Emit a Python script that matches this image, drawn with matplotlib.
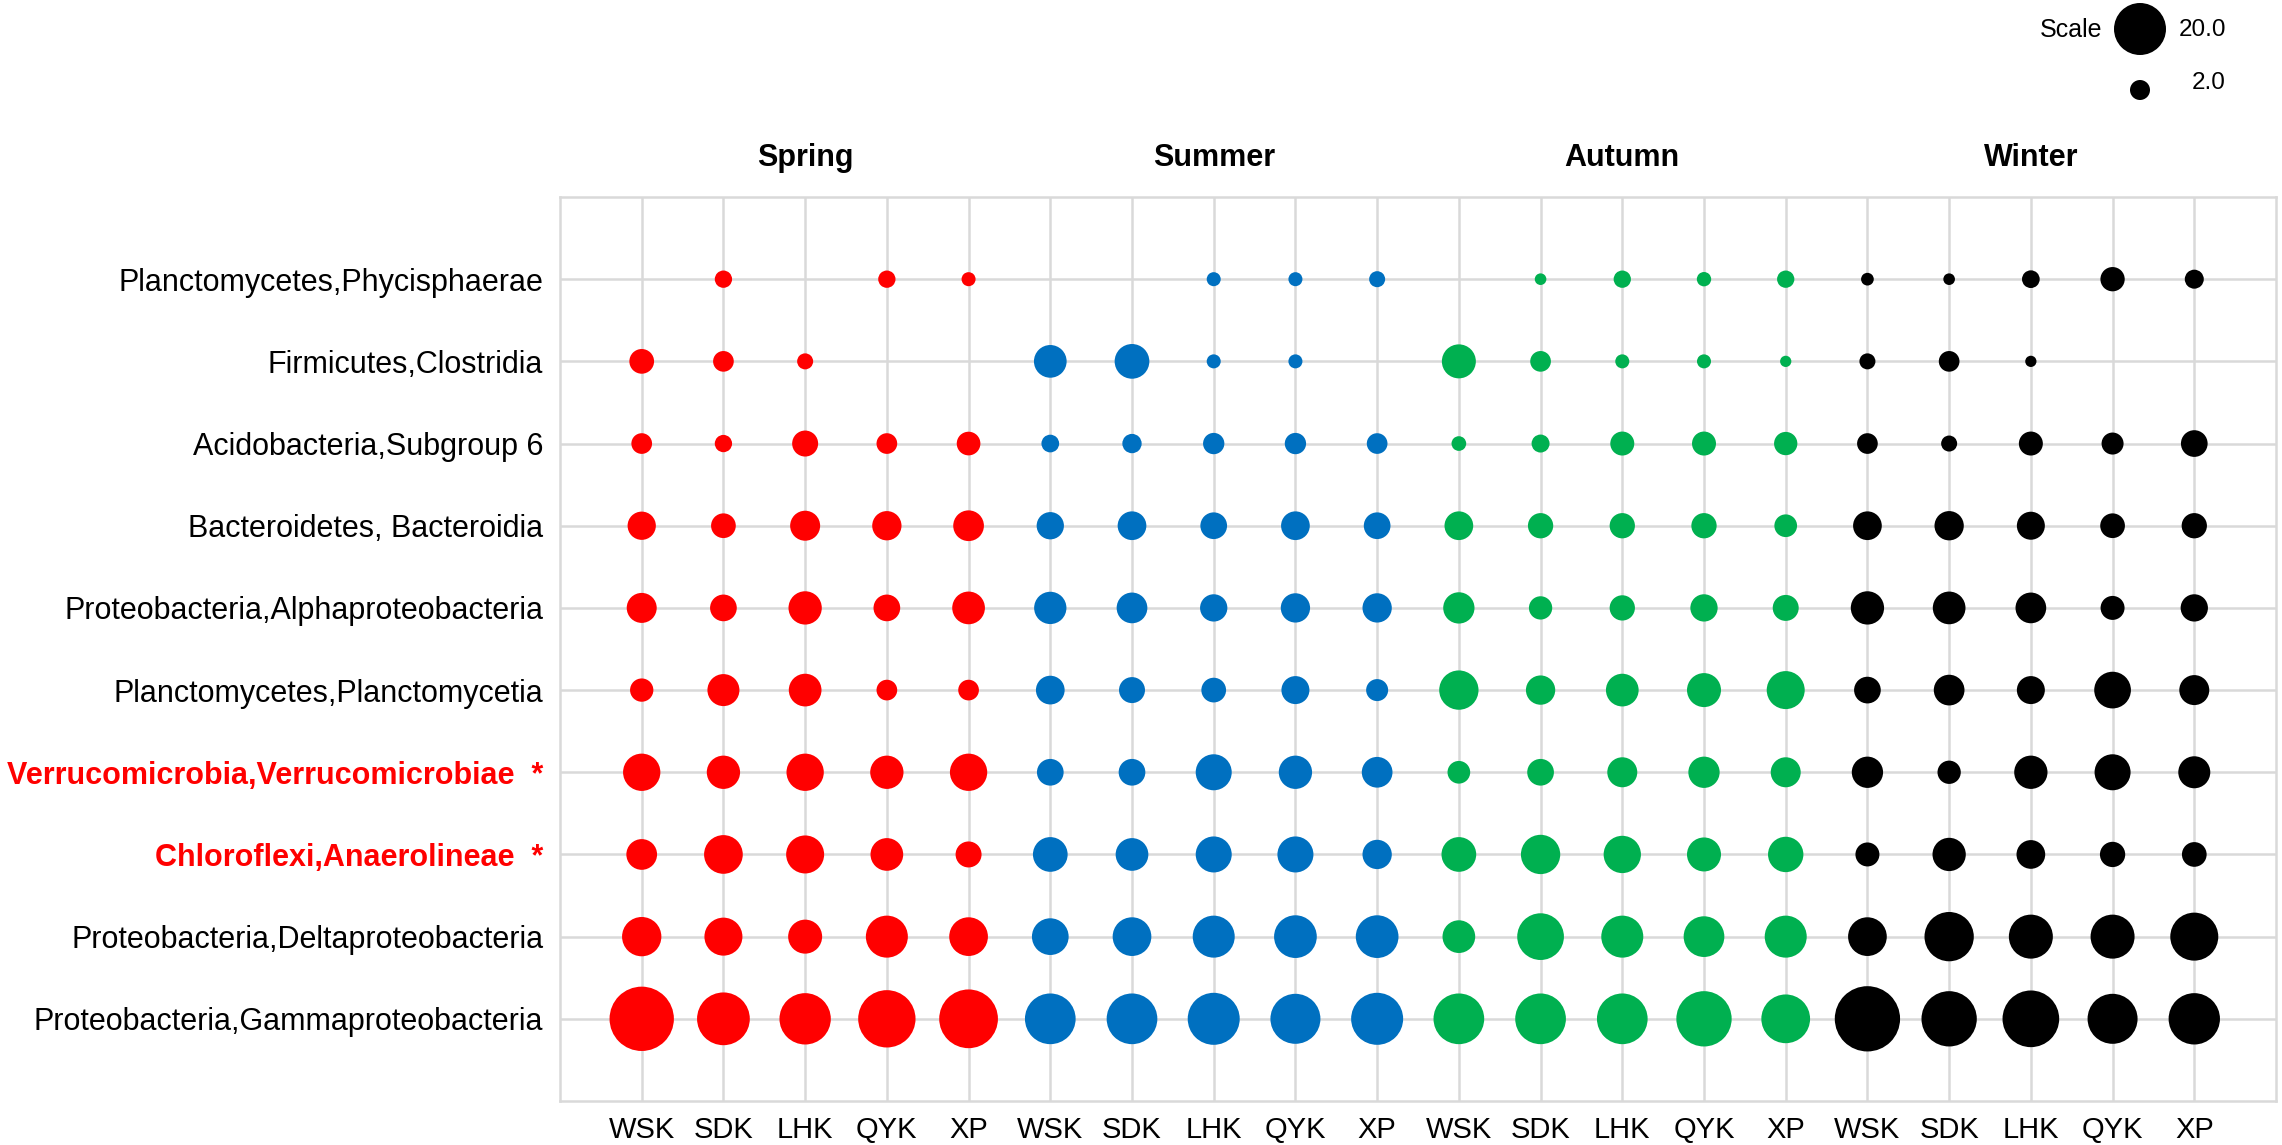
import numpy as np
import matplotlib
matplotlib.use('Agg')
import matplotlib.pyplot as plt

# --- Data ---
seasons = ["Spring", "Summer", "Autumn", "Winter"]
sites = ["WSK", "SDK", "LHK", "QYK", "XP"]
season_colors = ["#FF0000", "#0070C0", "#00B050", "#000000"]

taxa = [
    "Planctomycetes,Phycisphaerae",
    "Firmicutes,Clostridia",
    "Acidobacteria,Subgroup 6",
    "Bacteroidetes, Bacteroidia",
    "Proteobacteria,Alphaproteobacteria",
    "Planctomycetes,Planctomycetia",
    "Verrucomicrobia,Verrucomicrobiae  *",
    "Chloroflexi,Anaerolineae  *",
    "Proteobacteria,Deltaproteobacteria",
    "Proteobacteria,Gammaproteobacteria",
]
highlight = [False, False, False, False, False, False, True, True, False, False]

# relative abundance (%) per taxon, columns = WSK SDK LHK QYK XP for each season
spring = [
    [0.0, 1.41, 0.0, 1.41, 0.85],
    [3.33, 2.17, 1.17, 0.0, 0.0],
    [2.17, 1.41, 3.76, 2.17, 3.0],
    [4.6, 3.33, 5.31, 5.02, 5.62],
    [5.31, 4.01, 6.83, 4.01, 6.54],
    [2.89, 6.21, 6.54, 2.17, 2.17],
    [8.98, 6.83, 8.98, 6.83, 8.98],
    [5.62, 9.81, 9.39, 6.54, 3.76],
    [10.19, 9.39, 7.18, 11.95, 9.81],
    [33.4, 20.7, 19.4, 25.3, 26.8],
]
summer = [
    [0.0, 0.0, 0.85, 0.85, 1.17],
    [6.54, 7.55, 0.85, 0.85, 0.0],
    [1.49, 1.84, 2.33, 2.33, 2.17],
    [4.23, 4.78, 4.01, 4.78, 4.01],
    [6.35, 5.62, 4.23, 5.02, 5.02],
    [4.78, 3.76, 3.33, 4.5, 2.52],
    [4.01, 4.01, 8.25, 6.83, 5.62],
    [7.55, 6.54, 8.25, 8.25, 5.02],
    [8.64, 9.81, 11.95, 12.44, 12.44],
    [18.8, 18.8, 20.0, 18.2, 20.0],
]
autumn = [
    [0.0, 0.54, 1.41, 0.9, 1.41],
    [7.18, 2.17, 0.85, 0.85, 0.5],
    [0.95, 1.55, 3.1, 3.1, 2.89],
    [4.78, 3.52, 3.52, 3.52, 2.71],
    [5.88, 2.89, 3.52, 4.23, 3.76],
    [10.19, 5.02, 6.54, 7.18, 9.39],
    [2.71, 4.01, 5.31, 5.88, 5.31],
    [7.55, 10.19, 8.98, 7.18, 7.9],
    [6.54, 15.44, 11.95, 11.08, 11.95],
    [18.8, 18.8, 18.8, 23.2, 17.1],
]
winter = [
    [0.67, 0.54, 1.49, 3.2, 1.77],
    [1.17, 2.17, 0.5, 0.0, 0.0],
    [2.17, 1.17, 3.1, 2.52, 4.01],
    [4.78, 5.02, 4.5, 3.33, 3.52],
    [6.83, 6.54, 5.62, 3.1, 4.23],
    [4.01, 5.62, 4.5, 8.64, 5.31],
    [5.88, 2.89, 6.83, 8.25, 6.21],
    [3.1, 6.83, 4.78, 3.52, 3.33],
    [9.81, 17.59, 13.37, 13.37, 16.49],
    [34.6, 23.2, 24.6, 18.2, 19.4],
]
legend_values = [20.0, 2.0]

DPI = 100
W, H = 2282, 1145


def bubble_size(v):
    # diameter in px grows like v**0.415 (matches the 20.0 / 2.0 scale keys)
    d_px = 15.0 * np.power(np.asarray(v, dtype=float), 0.415)
    return (d_px * 72.0 / DPI) ** 2


plt.rcParams['font.family'] = ['Liberation Sans', 'DejaVu Sans']

fig = plt.figure(figsize=(W / DPI, H / DPI), dpi=DPI)
ax = fig.add_axes([560 / W, 1 - 1101 / H, (2276 - 560) / W, (1101 - 197) / H])

n_taxa = len(taxa)
ypos = np.arange(n_taxa, 0, -1)  # first taxon on top
grid_col = "#D9D9D9"

for si, (vals, col) in enumerate(zip([spring, summer, autumn, winter], season_colors)):
    vals = np.array(vals)
    for j in range(len(sites)):
        x = si * len(sites) + j + 1
        v = vals[:, j]
        m = v > 0
        ax.scatter(np.full(m.sum(), x), ypos[m], s=bubble_size(v[m]),
                   color=col, edgecolors='none', zorder=3)

n_cols = len(seasons) * len(sites)
ax.set_xlim(0, n_cols + 1)
ax.set_ylim(0, n_taxa + 1)
ax.set_xticks(np.arange(1, n_cols + 1))
ax.set_xticklabels(sites * len(seasons), fontsize=21)
ax.set_yticks(ypos)
ax.set_yticklabels(taxa, fontsize=22)
for lab, hl in zip(ax.get_yticklabels(), highlight):
    if hl:
        lab.set_color("#FF0000")
        lab.set_fontweight("bold")
ax.tick_params(axis='x', length=0, pad=11)
ax.tick_params(axis='y', length=0, pad=12)
ax.grid(True, color=grid_col, linewidth=1.8, zorder=0)
ax.set_axisbelow(True)
for sp in ax.spines.values():
    sp.set_color(grid_col)
    sp.set_linewidth(1.8)

# season headers
for si, s in enumerate(seasons):
    xc = si * len(sites) + (len(sites) + 1) / 2
    ax.text(xc, 1.043, s, transform=ax.get_xaxis_transform(), ha='center', va='center',
            fontsize=22, fontweight='bold')

# scale key (top right)
key = fig.add_axes([0, 0, 1, 1])
key.set_xlim(0, W)
key.set_ylim(H, 0)
key.axis('off')
key.scatter([2140, 2140], [29, 90], s=bubble_size(legend_values), color='black',
            edgecolors='none')
key.text(2102, 30, "Scale", ha='right', va='center', fontsize=18)
key.text(2226, 30, f"{legend_values[0]:.1f}", ha='right', va='center', fontsize=17.5)
key.text(2226, 83, f"{legend_values[1]:.1f}", ha='right', va='center', fontsize=17.5)

fig.savefig("out.png", dpi=DPI)
